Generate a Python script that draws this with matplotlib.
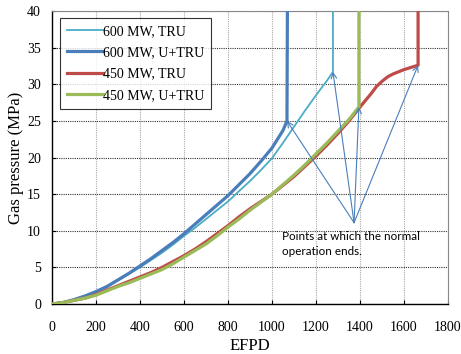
import numpy as np
import matplotlib
matplotlib.use("Agg")
import matplotlib.pyplot as plt

# data (EFPD, gas pressure in MPa)
efpd_600_tru = [0, 50, 100, 150, 200, 250, 300, 350, 400, 450, 500, 550, 600, 650, 700, 750,
                800, 850, 900, 950, 1000, 1050, 1100, 1150, 1200, 1250, 1277, 1277]
gp_600_tru = [0, 0.2, 0.6, 1.1, 1.6, 2.3, 3.2, 4.1, 5.0, 6.0, 7.0, 8.1, 9.3, 10.4, 11.6, 12.8,
              14.0, 15.4, 16.8, 18.3, 19.9, 22.0, 24.2, 26.4, 28.5, 30.5, 31.7, 40]

efpd_600_utru = [0, 50, 100, 150, 200, 250, 300, 350, 400, 450, 500, 550, 600, 650, 700, 750,
                 800, 850, 900, 950, 1000, 1050, 1068, 1070]
gp_600_utru = [0, 0.2, 0.6, 1.1, 1.7, 2.4, 3.3, 4.2, 5.2, 6.2, 7.3, 8.4, 9.6, 10.9, 12.2, 13.5,
               14.8, 16.3, 17.8, 19.5, 21.3, 23.7, 25.0, 40]

efpd_450_tru = [0, 50, 100, 150, 200, 250, 300, 350, 400, 450, 500, 550, 600, 650, 700, 750,
                800, 850, 900, 950, 1000, 1050, 1100, 1150, 1200, 1250, 1300, 1350, 1395,
                1425, 1450, 1475, 1500, 1525, 1550, 1575, 1600, 1632, 1664, 1664]
gp_450_tru = [0, 0.2, 0.5, 0.8, 1.3, 1.9, 2.5, 3.1, 3.7, 4.3, 5.0, 5.8, 6.6, 7.5, 8.5, 9.6,
              10.7, 11.9, 13.0, 14.0, 15.0, 16.2, 17.4, 18.8, 20.2, 21.7, 23.3, 25.0, 26.7,
              27.8, 28.7, 29.7, 30.4, 31.0, 31.4, 31.7, 32.0, 32.3, 32.6, 40]

efpd_450_utru = [0, 50, 100, 150, 200, 250, 300, 350, 400, 450, 500, 550, 600, 650, 700, 750,
                 800, 850, 900, 950, 1000, 1050, 1100, 1150, 1200, 1250, 1300, 1350, 1395, 1395]
gp_450_utru = [0, 0.2, 0.5, 0.8, 1.2, 1.8, 2.4, 2.9, 3.5, 4.1, 4.7, 5.5, 6.4, 7.3, 8.2, 9.3,
               10.5, 11.6, 12.8, 13.9, 15.0, 16.3, 17.6, 19.0, 20.5, 22.0, 23.6, 25.2, 26.9, 40]

# end points of normal operation and where the arrows start
end_x = [1068, 1277, 1395, 1664]
end_y = [25.0, 31.7, 26.9, 32.6]
arrow_start = (1373, 11.1)

serif = "Liberation Serif"

fig = plt.figure(figsize=(4.61, 3.54), dpi=100)
ax = fig.add_axes([0.1128, 0.1412, 0.8590, 0.8277])

kw = dict(solid_joinstyle="round", zorder=3)
ax.plot(efpd_600_tru, gp_600_tru, color="#4bacc6", lw=1.3, label="600 MW, TRU", **kw)
ax.plot(efpd_600_utru, gp_600_utru, color="#4a7ebb", lw=2.3, label="600 MW, U+TRU", **kw)
ax.plot(efpd_450_tru, gp_450_tru, color="#be4b48", lw=2.3, label="450 MW, TRU", **kw)
ax.plot(efpd_450_utru, gp_450_utru, color="#9bbb59", lw=2.3, label="450 MW, U+TRU", **kw)

for x, y in zip(end_x, end_y):
    ax.annotate("", xy=(x, y), xytext=arrow_start,
                arrowprops=dict(arrowstyle="->", color="#4a7ebb", lw=0.8,
                                shrinkA=0, shrinkB=0, mutation_scale=10), zorder=4)

ax.text(1045, 10.0, "Points at which the normal\noperation ends.", family="Lato",
        fontsize=8.4, va="top", ha="left", linespacing=1.45)

ax.set_xlim(0, 1800)
ax.set_ylim(0, 40)
ax.set_xticks(np.arange(0, 1801, 200))
ax.set_yticks(np.arange(0, 41, 5))
ax.grid(axis="y", color="#333333", linestyle=(0, (1, 1)), lw=0.8)
ax.grid(axis="x", color="#aaaaaa", linestyle=(0, (1, 1)), lw=0.8)
ax.set_axisbelow(True)

for s in ["top", "right"]:
    ax.spines[s].set_color("#888888")
    ax.spines[s].set_linewidth(0.8)
for s in ["left", "bottom"]:
    ax.spines[s].set_color("black")
    ax.spines[s].set_linewidth(1.0)

ax.tick_params(direction="in", length=3, width=0.8, labelsize=10)
ax.tick_params(axis="x", pad=12)
ax.tick_params(axis="y", pad=8)
for lab in ax.get_xticklabels() + ax.get_yticklabels():
    lab.set_family(serif)

ax.set_xlabel("EFPD", family=serif, fontsize=12, labelpad=3)
ax.set_ylabel("Gas pressure (MPa)", family=serif, fontsize=12, labelpad=2)

leg = ax.legend(loc="upper left", bbox_to_anchor=(0.02, 0.976), prop={"family": serif, "size": 10},
                frameon=True, fancybox=False, handlelength=2.6, handletextpad=0.0,
                borderpad=0.5, labelspacing=0.6, borderaxespad=0)
leg.get_frame().set_edgecolor("black")
leg.get_frame().set_linewidth(0.8)

fig.savefig("out.png", dpi=100)
